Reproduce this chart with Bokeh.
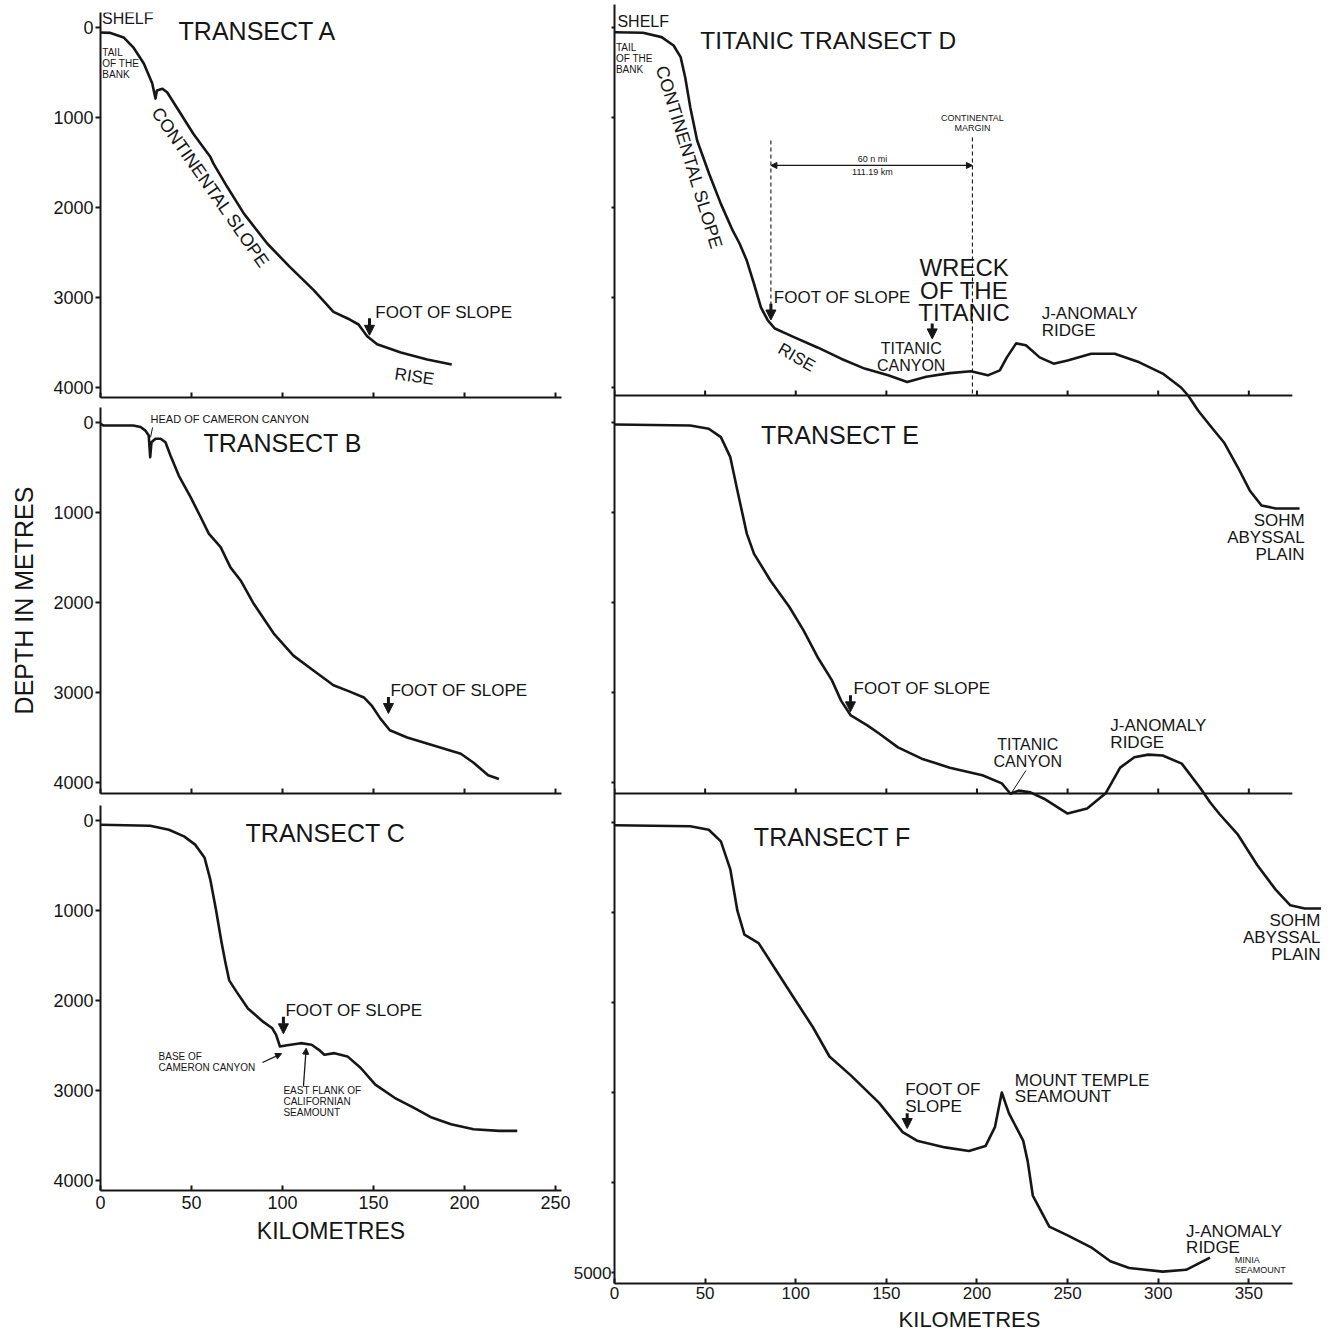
from bokeh.plotting import figure
from bokeh.models import (Range1d, FixedTicker, Label, Arrow, NormalHead,
                          CustomJSTickFormatter)
from bokeh.layouts import row, column
from bokeh.embed import file_html
from bokeh.resources import INLINE

# ---------------- data: distance along transect (km) and depth (m) ----------------
a_km = [0, 5.5, 12.7, 18, 23.8, 28.4, 30.2, 31, 34, 36.6, 44, 51, 60.4, 62, 69.6, 78.7,
        91.6, 104, 117, 128, 137, 141.8, 146.5, 152, 165, 179.5, 193]
a_depth = [55, 60, 110, 220, 400, 620, 790, 700, 680, 720, 955, 1180, 1440, 1510, 1770, 2065,
           2400, 2660, 2915, 3160, 3245, 3300, 3430, 3520, 3610, 3690, 3745]

b_km = [0, 1.5, 18, 22, 24.7, 26.5, 27.3, 28, 30.2, 33, 35.7, 38.5, 43, 49.5, 55, 59.5, 66,
        71.4, 77, 84.2, 95.2, 106, 117, 128, 137, 144.7, 149, 153.8, 159, 168.5, 183, 198,
        205, 213, 218.9]
b_depth = [15, 33, 33, 50, 90, 145, 385, 220, 180, 180, 220, 370, 590, 830, 1050, 1235, 1385,
           1610, 1755, 2015, 2345, 2590, 2755, 2920, 2990, 3055, 3145, 3290, 3420, 3500, 3590,
           3680, 3780, 3920, 3960]

c_km = [0, 27.3, 37.6, 45.9, 52, 57.2, 60.3, 63.4, 66.5, 68.6, 70.7, 74.8, 81, 89.3, 94.4,
        96.5, 98.6, 101.7, 110, 116, 120, 123, 128.5, 135.7, 143, 151, 161.6, 172, 182,
        192.6, 205, 219, 229]
c_depth = [48, 59, 103, 176, 268, 415, 654, 985, 1353, 1574, 1776, 1904, 2088, 2235, 2309,
           2382, 2511, 2500, 2474, 2492, 2548, 2603, 2585, 2621, 2750, 2934, 3081, 3191, 3301,
           3375, 3430, 3449, 3449]

d_km = [0, 15.7, 26, 32.6, 36.5, 39, 41.8, 45.6, 52.2, 58.7, 65.2, 69, 73, 77, 80.8, 84.6,
        88.5, 99, 112, 125, 138, 151, 161.5, 172, 185, 196.7, 206, 212.6, 216.5, 221.6, 227,
        234.6, 242.3, 250, 263, 276, 289.6, 302.5, 312.6, 316.5, 322, 328.6, 336.3, 344,
        350.5, 357, 364.8, 378]
d_depth = [52, 59, 107, 200, 330, 552, 885, 1255, 1625, 1960, 2255, 2400, 2590, 2850, 3110,
           3255, 3345, 3440, 3555, 3680, 3790, 3865, 3940, 3880, 3840, 3820, 3865, 3810, 3665,
           3510, 3530, 3665, 3735, 3700, 3625, 3625, 3720, 3845, 4000, 4089, 4256, 4422, 4611,
           4889, 5144, 5311, 5344, 5344]

e_km = [0, 41.8, 52, 58.7, 63.9, 67.8, 73, 77, 86, 96.5, 104.3, 112, 120, 125, 130.4, 139.5,
        146, 156.4, 169.5, 185, 203, 213.7, 218.5, 223, 229.5, 237, 250, 260.8, 271, 279,
        286.8, 294.5, 302.5, 313, 323, 328.6, 333.8, 344, 354.7, 364.8, 372.9, 380.8, 389.8]
e_depth = [22, 33, 70, 163, 385, 755, 1235, 1460, 1755, 2050, 2310, 2605, 2865, 3090, 3255,
           3365, 3455, 3610, 3735, 3835, 3920, 4010, 4125, 4090, 4110, 4180, 4345, 4290, 4120,
           3835, 3720, 3690, 3700, 3790, 4055, 4220, 4350, 4580, 4920, 5190, 5365, 5400, 5400]

f_km = [0, 41.8, 52, 58.7, 63.9, 67.8, 71.7, 79.5, 88.6, 99, 109.5, 118.6, 130.4, 146, 159,
        166.9, 182.4, 195.6, 204.7, 209.9, 213.7, 217.6, 225.5, 228, 230.8, 239.9, 250.3,
        263, 273.6, 284, 302.5, 315.4, 328.6]
f_depth = [30, 42, 80, 210, 520, 980, 1245, 1340, 1625, 1950, 2275, 2600, 2810, 3115, 3440,
           3535, 3610, 3650, 3595, 3385, 3000, 3230, 3535, 3765, 4145, 4490, 4590, 4720, 4875,
           4950, 4990, 4970, 4835]

left_km_ticks = [0, 50, 100, 150, 200, 250]
right_km_ticks = [0, 50, 100, 150, 200, 250, 300, 350]
depth_ticks_4000 = [0, 1000, 2000, 3000, 4000]
depth_ticks_5000 = [0, 1000, 2000, 3000, 4000, 5000]

# ---------------- layout constants ----------------
INK = "#161616"
FONT = "Liberation Sans"
PX_PER_KM = 1.82
PX_PER_M = 0.09


def make_fig(width, height, frame_w, frame_h, zero_px, bl, br, bt, bb):
    p = figure(width=width, height=height,
               x_range=Range1d(0, frame_w / PX_PER_KM),
               y_range=Range1d((frame_h - zero_px) / PX_PER_M, -zero_px / PX_PER_M),
               output_backend="svg", toolbar_location=None,
               min_border_left=bl, min_border_right=br,
               min_border_top=bt, min_border_bottom=bb)
    p.outline_line_color = None
    p.xgrid.visible = False
    p.ygrid.visible = False
    p.background_fill_color = "white"
    p.border_fill_color = "white"
    return p


def style_axis(ax, ticks, labels=True, tick_in=0, tick_out=5, size="17px"):
    ax.ticker = FixedTicker(ticks=ticks, minor_ticks=[])
    ax.axis_line_color = INK
    ax.axis_line_width = 2
    ax.major_tick_line_color = INK
    ax.major_tick_line_width = 2
    ax.major_tick_in = tick_in
    ax.major_tick_out = tick_out
    ax.minor_tick_line_color = None
    ax.major_label_text_font = FONT
    ax.major_label_text_color = INK
    ax.major_label_standoff = 2
    if labels:
        ax.major_label_text_font_size = size
    else:
        ax.major_label_text_font_size = "1px"
        ax.major_label_text_color = None
        ax.major_label_standoff = 0
    ax.axis_label_text_font = FONT
    ax.axis_label_text_font_style = "normal"
    ax.axis_label_text_color = INK


def note(p, x, y, lines, size, align="left", angle=0, rng=None, lead=None):
    if isinstance(lines, str):
        lines = [lines]
    lead = lead if lead is not None else size
    kw = dict(y_range_name=rng) if rng else {}
    for i, t in enumerate(lines):
        p.add_layout(Label(x=x, y=y + i * lead / PX_PER_M, text=t, text_font=FONT,
                           text_font_size=f"{size}px", text_align=align,
                           text_baseline="middle", angle=angle, angle_units="deg",
                           text_color=INK, **kw))


def down_arrow(p, x, y0, y1, rng=None, size=10):
    kw = dict(y_range_name=rng) if rng else {}
    p.add_layout(Arrow(end=NormalHead(size=size, fill_color=INK, line_color=INK, line_width=1),
                       x_start=x, y_start=y0, x_end=x, y_end=y1,
                       line_width=3, line_color=INK, **kw))


def thin_arrow(p, x0, y0, x1, y1, rng=None, size=6, start=False):
    kw = dict(y_range_name=rng) if rng else {}
    head = lambda: NormalHead(size=size, fill_color=INK, line_color=INK, line_width=1)
    p.add_layout(Arrow(end=head(), start=head() if start else None,
                       x_start=x0, y_start=y0, x_end=x1, y_end=y1,
                       line_width=1.3, line_color=INK, **kw))


def profile(p, km, depth, rng=None):
    kw = dict(y_range_name=rng) if rng else {}
    p.line(km, depth, line_color=INK, line_width=2.6, line_join="round", **kw)


# ---------------- left column: transects A, B, C ----------------
LW, LFW = 570, 461
A = make_fig(LW, 403, LFW, 385, 15, 100, 9, 12, 6)
B = make_fig(LW, 398, LFW, 386, 15, 100, 9, 4, 8)
C = make_fig(LW, 455, LFW, 385, 15, 100, 9, 4, 66)

for p in (A, B, C):
    style_axis(p.yaxis[0], depth_ticks_4000, labels=True, tick_in=0, tick_out=5, size="18px")
    style_axis(p.xaxis[0], left_km_ticks, labels=(p is C), tick_in=5, tick_out=0, size="18px")

B.yaxis[0].axis_label = "DEPTH IN METRES"
B.yaxis[0].axis_label_text_font_size = "25px"
B.yaxis[0].axis_label_standoff = 12
C.xaxis[0].axis_label = "KILOMETRES"
C.xaxis[0].axis_label_text_font_size = "23px"
C.xaxis[0].axis_label_standoff = 6
C.xaxis[0].major_label_standoff = 5

profile(A, a_km, a_depth)
profile(B, b_km, b_depth)
profile(C, c_km, c_depth)

# Transect A notes
note(A, 0.8, -100, "SHELF", 16)
note(A, 1, 278, ["TAIL", "OF THE", "BANK"], 10, lead=11)
note(A, 42.9, 44, "TRANSECT A", 25)
note(A, 60.4, 1778, "CONTINENTAL SLOPE", 18, align="center", angle=-55)
note(A, 151, 3167, "FOOT OF SLOPE", 17)
down_arrow(A, 147.8, 3230, 3420)
note(A, 172.5, 3878, "RISE", 17, align="center", angle=-8)

# Transect B notes
note(B, 27.5, -44, "HEAD OF CAMERON CANYON", 11)
B.segment(x0=[28.6], y0=[55], x1=[27.5], y1=[165], line_color=INK, line_width=1)
note(B, 56.6, 233, "TRANSECT B", 25)
note(B, 159.3, 2978, "FOOT OF SLOPE", 17)
down_arrow(B, 158.2, 3050, 3233)

# Transect C notes
note(C, 79.7, 144, "TRANSECT C", 25)
note(C, 101.6, 2111, "FOOT OF SLOPE", 17)
down_arrow(C, 100.5, 2180, 2370)
note(C, 31.9, 2622, ["BASE OF", "CAMERON CANYON"], 10, lead=11)
thin_arrow(C, 89, 2689, 99.5, 2590)
note(C, 100.5, 3000, ["EAST FLANK OF", "CALIFORNIAN", "SEAMOUNT"], 10, lead=11)
thin_arrow(C, 111.5, 2956, 113, 2530)

# ---------------- right column: transects D, E, F in one tall frame ----------------
RW, RFW, RFH = 758, 713, 1279
D_ZERO, E_ZERO, F_ZERO = 23, 418, 818      # px of each panel's sea level below frame top
R = make_fig(RW, 1337, RFW, RFH, F_ZERO, 41, 4, 4, 54)
R.extra_y_ranges = {
    "D": Range1d((RFH - D_ZERO) / PX_PER_M, -D_ZERO / PX_PER_M),
    "E": Range1d((RFH - E_ZERO) / PX_PER_M, -E_ZERO / PX_PER_M),
}
off_D = (F_ZERO - D_ZERO) / PX_PER_M
off_E = (F_ZERO - E_ZERO) / PX_PER_M
KM_END = 374

style_axis(R.xaxis[0], right_km_ticks, labels=True, tick_in=5, tick_out=0, size="17px")
R.xaxis[0].bounds = (0, KM_END)
R.xaxis[0].major_label_standoff = 3
R.xaxis[0].axis_label = "KILOMETRES"
R.xaxis[0].axis_label_text_font_size = "22px"
R.xaxis[0].axis_label_standoff = 5

y_ticks = ([t - off_D for t in depth_ticks_4000] + [t - off_E for t in depth_ticks_4000]
           + depth_ticks_5000)
style_axis(R.yaxis[0], y_ticks, labels=True, tick_in=0, tick_out=3, size="17px")
R.yaxis[0].major_label_standoff = 0
R.yaxis[0].formatter = CustomJSTickFormatter(
    code="return Math.abs(tick - 5000) < 1 ? '5000' : '';")

# panel floor lines for D and E with upward ticks
D_BASE, E_BASE = 4089, 4122
tick_len = 5 / PX_PER_M
for rng, base in (("D", D_BASE), ("E", E_BASE)):
    R.segment(x0=[0], y0=[base], x1=[KM_END], y1=[base], line_color=INK, line_width=2,
              y_range_name=rng)
    R.segment(x0=right_km_ticks, y0=[base] * len(right_km_ticks), x1=right_km_ticks,
              y1=[base - tick_len] * len(right_km_ticks), line_color=INK, line_width=2,
              y_range_name=rng)

profile(R, d_km, d_depth, "D")
profile(R, e_km, e_depth, "E")
profile(R, f_km, f_depth)

# Transect D notes
note(R, 1.6, -67, "SHELF", 16, rng="D")
note(R, 0.8, 222, ["TAIL", "OF THE", "BANK"], 10, rng="D", lead=11)
note(R, 47.3, 144, "TITANIC TRANSECT D", 24.5, rng="D")
note(R, 41.2, 1444, "CONTINENTAL SLOPE", 18, align="center", angle=-73, rng="D")
foot_D, margin_D = 86.3, 86.3 + 111.19
R.segment(x0=[foot_D, margin_D], y0=[1255, 1222], x1=[foot_D, margin_D], y1=[3178, D_BASE],
          line_color=INK, line_width=1.1, line_dash="4 3", y_range_name="D")
thin_arrow(R, foot_D, 1533, margin_D, 1533, rng="D", size=6, start=True)
note(R, 142.3, 1456, "60 n mi", 9, align="center", rng="D")
note(R, 142.3, 1611, "111.19 km", 9, align="center", rng="D")
note(R, margin_D, 1011, ["CONTINENTAL", "MARGIN"], 9, align="center", rng="D", lead=10)
note(R, 87.9, 3000, "FOOT OF SLOPE", 17, rng="D")
down_arrow(R, foot_D, 3070, 3250, rng="D")
note(R, 192.9, 2667, ["WRECK", "OF THE", "TITANIC"], 24, align="center", rng="D", lead=22.5)
down_arrow(R, 175.3, 3290, 3460, rng="D")
note(R, 163.7, 3567, ["TITANIC", "CANYON"], 16, align="center", rng="D", lead=17)
note(R, 100.5, 3667, "RISE", 17, align="center", angle=-30, rng="D")
note(R, 235.7, 3178, ["J-ANOMALY", "RIDGE"], 17, rng="D", lead=17)

# Transect E notes
note(R, 80.8, 144, "TRANSECT E", 25, rng="E")
note(R, 380.8, 1089, ["SOHM", "ABYSSAL", "PLAIN"], 17, align="right", rng="E", lead=17)
note(R, 131.9, 2956, "FOOT OF SLOPE", 17, rng="E")
down_arrow(R, 130.2, 3030, 3215, rng="E")
note(R, 228, 3578, ["TITANIC", "CANYON"], 16, align="center", rng="E", lead=17)
R.segment(x0=[227], y0=[3867], x1=[219.2], y1=[4111], line_color=INK, line_width=1,
          y_range_name="E")
note(R, 273.6, 3367, ["J-ANOMALY", "RIDGE"], 17, rng="E", lead=17)

# Transect F notes
note(R, 76.9, 156, "TRANSECT F", 25)
note(R, 389.5, 1089, ["SOHM", "ABYSSAL", "PLAIN"], 17, align="right", lead=17)
note(R, 160.4, 2967, ["FOOT OF", "SLOPE"], 17, lead=17)
down_arrow(R, 161.5, 3230, 3400)
note(R, 220.9, 2867, ["MOUNT TEMPLE", "SEAMOUNT"], 17, lead=16)
note(R, 315.4, 4544, ["J-ANOMALY", "RIDGE"], 17, lead=16)
note(R, 342.3, 4856, ["MINIA", "SEAMOUNT"], 9, lead=10)

layout = row(column(A, B, C), R)
open("out.html", "w").write(file_html(layout, INLINE))
